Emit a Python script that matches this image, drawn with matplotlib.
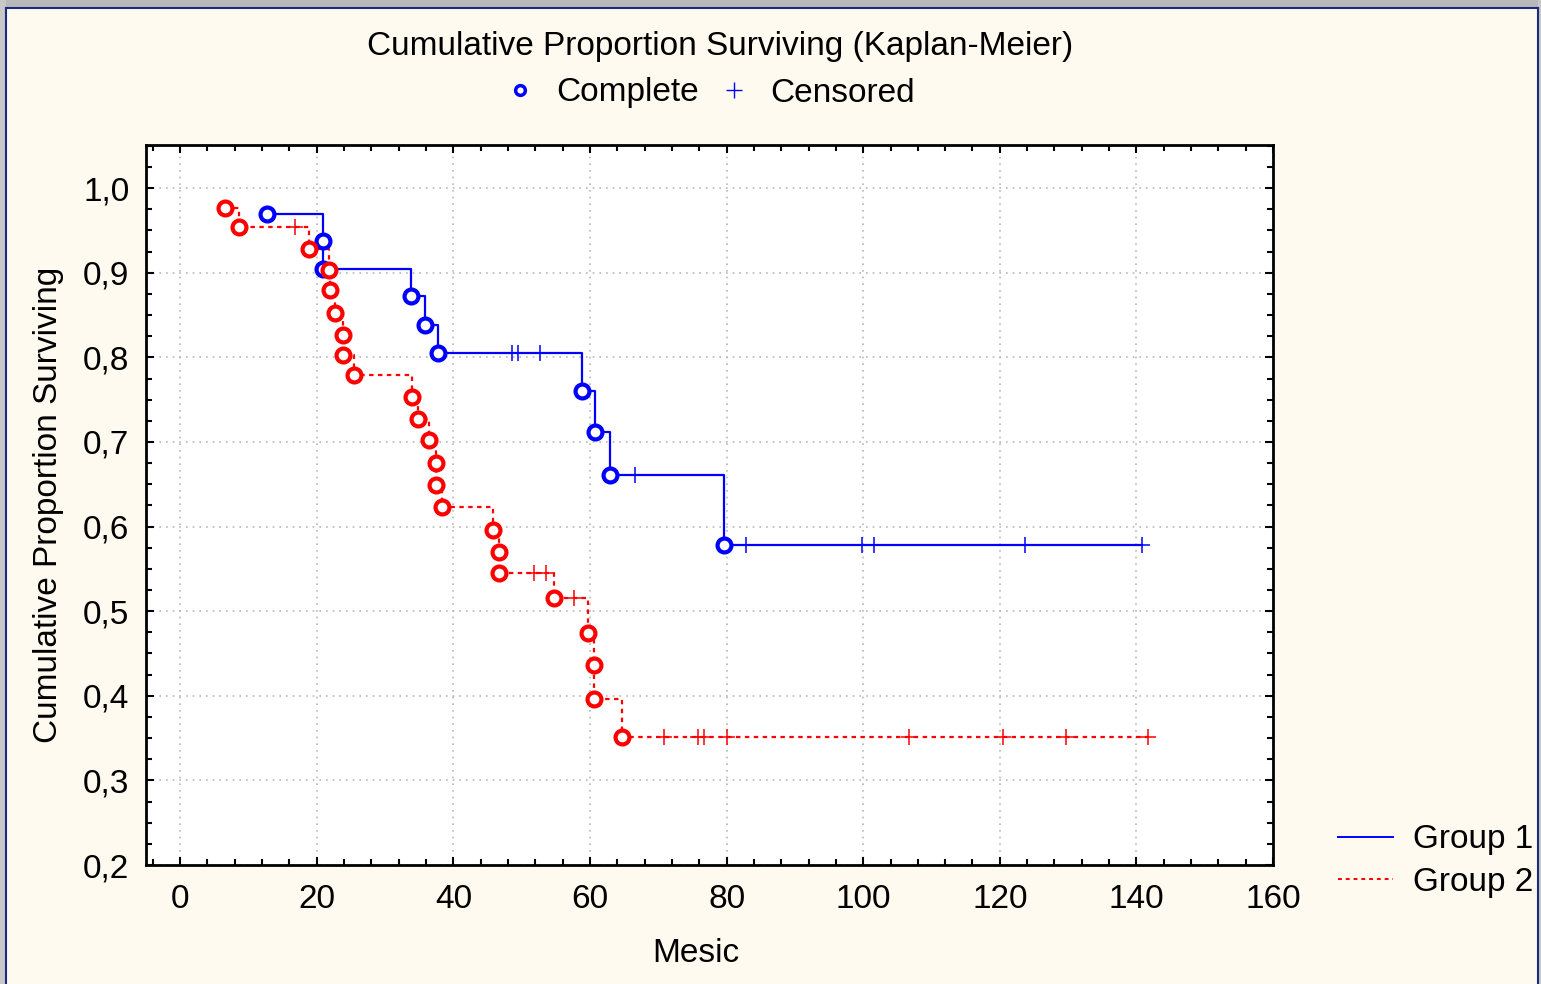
import numpy as np
import matplotlib
matplotlib.use("Agg")
from matplotlib import pyplot as plt
from matplotlib.lines import Line2D
from matplotlib.patches import Rectangle
from matplotlib.ticker import FuncFormatter, MultipleLocator

# Group 1 - complete (event) times and survival
g1_event_t = [12.7, 20.9, 20.9, 33.8, 35.8, 37.7, 58.8, 60.8, 63.0, 79.6]
g1_event_s = [0.969, 0.938, 0.905, 0.872, 0.838, 0.805, 0.760, 0.712, 0.661, 0.578]
# Group 1 - censored
g1_cens_t = [48.6, 49.4, 52.7, 66.6, 82.8, 99.8, 101.6, 123.7, 140.8]
g1_cens_s = [0.805, 0.805, 0.805, 0.661, 0.578, 0.578, 0.578, 0.578, 0.578]

# Group 2 - complete (event) times and survival
g2_event_t = [6.6, 8.6, 18.8, 21.8, 21.9, 22.6, 23.8, 23.8, 25.5, 34.0, 34.8, 36.5,
              37.5, 37.5, 38.4, 45.8, 46.7, 46.7, 54.7, 59.7, 60.6, 60.6, 64.7]
g2_event_s = [0.977, 0.954, 0.928, 0.903, 0.880, 0.853, 0.827, 0.803, 0.779, 0.753, 0.727, 0.702,
              0.675, 0.649, 0.623, 0.596, 0.570, 0.545, 0.515, 0.474, 0.436, 0.396, 0.351]
# Group 2 - censored
g2_cens_t = [16.8, 51.8, 53.5, 57.7, 70.8, 75.8, 76.7, 80.0, 106.7, 120.4, 129.7, 141.7]
g2_cens_s = [0.954, 0.545, 0.545, 0.515, 0.351, 0.351, 0.351, 0.351, 0.351, 0.351, 0.351, 0.351]

group_names = ["Group 1", "Group 2"]
x_ticks = np.arange(0, 161, 20)
y_ticks = np.arange(0.2, 1.01, 0.1)

BG = "#FFFAF0"
FONT = ["Liberation Sans", "DejaVu Sans"]
plt.rcParams["font.family"] = FONT
FS = 24


def km_path(ev_t, ev_s, ce_t, ce_s):
    # merge events and censored points in time order (events first on ties)
    pts = [(t, 0, s) for t, s in zip(ev_t, ev_s)] + [(t, 1, s) for t, s in zip(ce_t, ce_s)]
    pts.sort(key=lambda p: (p[0], p[1]))
    return [p[0] for p in pts], [p[2] for p in pts]


fig = plt.figure(figsize=(15.41, 9.84), dpi=100, facecolor=BG)
ax = fig.add_axes([146 / 1541, 1 - 865 / 984, (1273 - 146) / 1541, (865 - 145) / 984])
ax.set_facecolor("white")

styles = [
    dict(color="#0000FF", ls="-", lw=1.6),
    dict(color="#FF0000", ls=(0, (2, 2)), lw=1.6),
]
data = [
    (g1_event_t, g1_event_s, g1_cens_t, g1_cens_s),
    (g2_event_t, g2_event_s, g2_cens_t, g2_cens_s),
]

for (et, es, ct, cs), st in zip(data, styles):
    xs, ys = km_path(et, es, ct, cs)
    ax.plot(xs, ys, drawstyle="steps-post", color=st["color"], linestyle=st["ls"], lw=st["lw"], zorder=3)
    ax.plot(ct, cs, linestyle="none", marker="+", ms=12, mew=1.1, color=st["color"], zorder=4)
    ax.plot(et, es, linestyle="none", marker="o", ms=10, mew=3,
            markerfacecolor="white", markeredgecolor=st["color"], zorder=5)

ax.set_xlim(-5, 160)
ax.set_ylim(0.2, 1.051)
ax.set_xticks(x_ticks)
ax.set_yticks(y_ticks)
ax.xaxis.set_minor_locator(MultipleLocator(4))
ax.yaxis.set_minor_locator(MultipleLocator(0.025))
ax.yaxis.set_major_formatter(FuncFormatter(lambda v, p: f"{v:.1f}".replace(".", ",")))
ax.tick_params(which="both", direction="in", top=True, right=True, width=1.5, labelsize=FS)
ax.tick_params(which="major", length=6)
ax.tick_params(which="minor", length=4)
ax.tick_params(axis="x", pad=14)
ax.tick_params(axis="y", pad=12)
for sp in ax.spines.values():
    sp.set_linewidth(2)
ax.grid(True, which="major", linestyle=(0, (1, 3)), color="#b8b8b8", lw=1.2)
ax.set_axisbelow(True)

ax.set_xlabel("Mesic", fontsize=FS)
ax.xaxis.set_label_coords((696 - 146) / 1127, -0.102)
ax.set_ylabel("Cumulative Proportion Surviving", fontsize=FS, labelpad=14)

fig.text(0.467, 1 - 46 / 984, "Cumulative Proportion Surviving (Kaplan-Meier)",
         ha="center", va="center", fontsize=FS)

# marker legend at the top
top_handles = [
    Line2D([], [], ls="none", marker="o", ms=7, mew=2.5, markerfacecolor="white", markeredgecolor="#0000FF"),
    Line2D([], [], ls="none", marker="+", ms=11, mew=1, color="#0000FF"),
]
fig.legend(top_handles, ["Complete", "Censored"], loc="center left",
           bbox_to_anchor=(503 / 1541, 1 - 93 / 984), borderpad=0, borderaxespad=0,
           ncol=2, frameon=False, fontsize=FS, handlelength=1.0, handletextpad=0.6, columnspacing=0.55)

# group legend at the right
grp_handles = [Line2D([], [], **{"color": s["color"], "linestyle": s["ls"], "lw": 1.4}) for s in styles]
fig.legend(grp_handles, group_names, loc="center left", bbox_to_anchor=(1338 / 1541, 1 - 861 / 984),
           borderpad=0, borderaxespad=0, frameon=False, fontsize=FS,
           handlelength=1.65, handletextpad=0.6, labelspacing=0.35)

# window border
fig.patches.append(Rectangle((0, 1 - 7 / 984), 1, 7 / 984, transform=fig.transFigure,
                             facecolor="#b8b8b8", edgecolor="none", zorder=0))
fig.patches.append(Rectangle((0, 0), 6 / 1541, 1, transform=fig.transFigure,
                             facecolor="#c8c8c8", edgecolor="none", zorder=0))
fig.patches.append(Rectangle((1538 / 1541, 0), 3 / 1541, 1, transform=fig.transFigure,
                             facecolor="#c8c8c8", edgecolor="none", zorder=0))
fig.lines.append(Line2D([6 / 1541, 1538 / 1541], [1 - 8 / 984, 1 - 8 / 984], transform=fig.transFigure,
                        color="#1a2a80", lw=1.5))
fig.lines.append(Line2D([6 / 1541, 6 / 1541], [0, 1 - 8 / 984], transform=fig.transFigure,
                        color="#1a2a80", lw=1.5))
fig.lines.append(Line2D([1538 / 1541, 1538 / 1541], [0, 1 - 8 / 984], transform=fig.transFigure,
                        color="#1a2a80", lw=1.5))

fig.savefig("out.png", dpi=100, facecolor=BG)
